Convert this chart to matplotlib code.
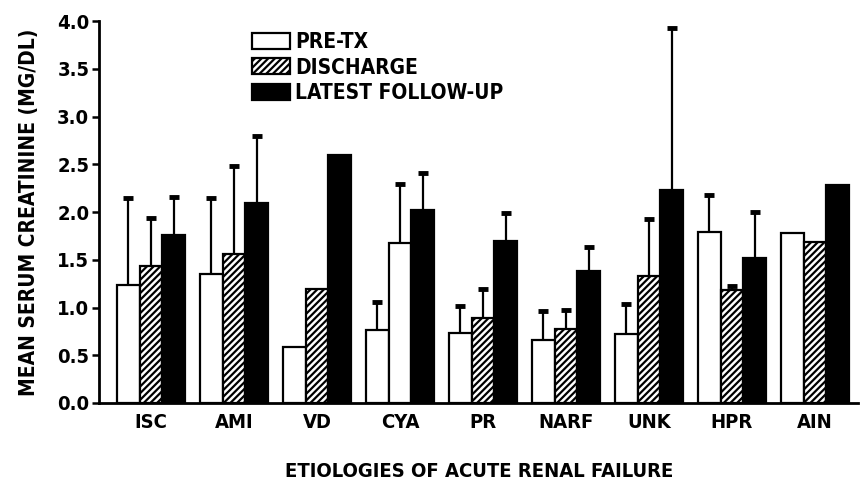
import numpy as np
import matplotlib
matplotlib.use('Agg')
import matplotlib.pyplot as plt
from matplotlib.patches import Patch

plt.rcParams['font.family'] = ['DejaVu Sans']
plt.rcParams['font.stretch'] = 'condensed'
plt.rcParams['font.weight'] = 'bold'
plt.rcParams['hatch.linewidth'] = 1.6

categories = ['ISC', 'AMI', 'VD', 'CYA', 'PR', 'NARF', 'UNK', 'HPR', 'AIN']
pre_tx = [1.24, 1.35, 0.59, 0.76, 0.73, 0.66, 0.72, 1.79, 1.78]
discharge = [1.43, 1.56, 1.19, 1.68, 0.89, 0.78, 1.33, 1.18, 1.69]
follow_up = [1.76, 2.09, 2.60, 2.02, 1.70, 1.38, 2.23, 1.52, 2.28]
# top of the error bar (mean + SD), None where no bar is drawn
pre_tx_top = [2.15, 2.15, None, 1.06, 1.02, 0.96, 1.04, 2.18, None]
discharge_top = [1.94, 2.48, None, 2.29, 1.19, 0.97, 1.93, 1.22, None]
follow_up_top = [2.16, 2.80, None, 2.41, 1.99, 1.63, 3.93, 2.00, None]
# the CYA discharge bar is printed without hatching
discharge_hatched = [True, True, True, False, True, True, True, True, True]

fig = plt.figure(figsize=(8.6, 4.98), dpi=100)
ax = fig.add_axes([99 / 860, 1 - 403 / 498, (858 - 99) / 860, (403 - 21) / 498])

x = np.arange(len(categories))
w = 0.275

ax.bar(x - w, pre_tx, w, color='white', edgecolor='black', linewidth=1.6, zorder=2)
for i in range(len(categories)):
    ax.bar(x[i], discharge[i], w, color='white', edgecolor='black', linewidth=1.6,
           hatch='/////' if discharge_hatched[i] else None, zorder=2)
ax.bar(x + w, follow_up, w, color='black', edgecolor='black', linewidth=1.6, zorder=2)

def draw_err(xs, vals, tops):
    for xi, v, t in zip(xs, vals, tops):
        if t is None:
            continue
        ax.vlines(xi, v, t, color='black', linewidth=1.6, zorder=1)
        ax.plot([xi], [t], marker='_', markersize=7, markeredgewidth=3.5, color='black', zorder=1)

draw_err(x - w, pre_tx, pre_tx_top)
draw_err(x, discharge, discharge_top)
draw_err(x + w, follow_up, follow_up_top)

ax.set_xlim((99 - 151) / 83, (858 - 151) / 83)
ax.set_ylim(0, 4.0)
ax.set_yticks(np.arange(0, 4.01, 0.5))
ax.set_yticklabels([f'{v:.1f}' for v in np.arange(0, 4.01, 0.5)], fontsize=14.5, fontweight='bold')
ax.set_xticks(x)
ax.set_xticklabels(categories, fontsize=14.5, fontweight='bold')
ax.tick_params(axis='x', length=0, pad=7)
ax.tick_params(axis='y', length=5, width=1.8, pad=2)
for s in ['top', 'right']:
    ax.spines[s].set_visible(False)
for s in ['left', 'bottom']:
    ax.spines[s].set_linewidth(2)

ax.set_ylabel('MEAN SERUM CREATININE (MG/DL)', fontsize=15, fontweight='bold', labelpad=13)
fig.text(479 / 860, 1 - 471 / 498, 'ETIOLOGIES OF ACUTE RENAL FAILURE', ha='center', va='center',
         fontsize=14.5, fontweight='bold')

handles = [Patch(facecolor='white', edgecolor='black', linewidth=1.6),
           Patch(facecolor='white', edgecolor='black', linewidth=1.6, hatch='/////'),
           Patch(facecolor='black', edgecolor='black', linewidth=1.6)]
fig.legend(handles, ['PRE-TX', 'DISCHARGE', 'LATEST FOLLOW-UP'], loc='upper left',
           bbox_to_anchor=(242 / 860, 1 - 22 / 498), frameon=False,
           handlelength=1.8, handleheight=0.8, labelspacing=0.25, handletextpad=0.25,
           borderpad=0, prop={'weight': 'bold', 'size': 15, 'stretch': 'condensed'})

fig.savefig('out.png', dpi=100)
